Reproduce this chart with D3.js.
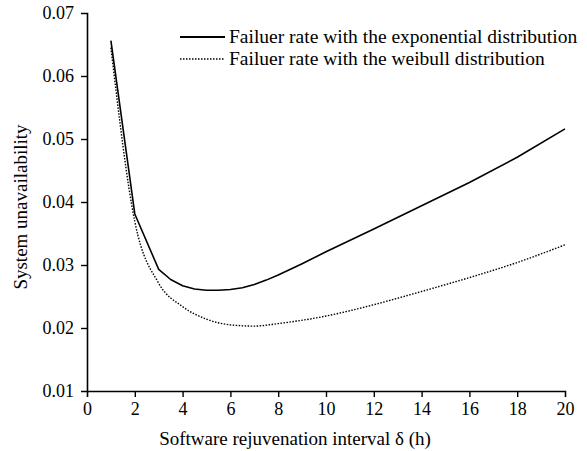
<!DOCTYPE html>
<html>
<head>
<meta charset="utf-8">
<script src="https://cdn.jsdelivr.net/npm/d3@7"></script>
<style>
  body { margin: 0; background: #fff; }
  text { font-family: "Liberation Serif", "Times New Roman", serif; fill: #000; }
</style>
</head>
<body>
<svg id="chart"></svg>
<script>
const width = 587;
const height = 451;

// data
const expIntervals = [1, 2, 3, 3.5, 4, 4.5, 5, 5.5, 6, 6.5, 7, 7.5, 8, 9, 10, 12, 14, 16, 18, 20];
const expRate = [0.0656, 0.0381, 0.0293, 0.0277, 0.0267, 0.0262, 0.0260, 0.0260, 0.0261, 0.0264, 0.0269, 0.0276, 0.0284, 0.0302, 0.0321, 0.0357, 0.0394, 0.0431, 0.0471, 0.0516];
const weibullIntervals = [1, 2, 3, 4, 5, 6, 7, 8, 10, 12, 14, 16, 18, 20];
const weibullRate = [0.0645, 0.0369, 0.0271, 0.0234, 0.0214, 0.0205, 0.0203, 0.0207, 0.0219, 0.0237, 0.0258, 0.0280, 0.0304, 0.0332];
const xTicks = [0, 2, 4, 6, 8, 10, 12, 14, 16, 18, 20];
const yTicks = [0.01, 0.02, 0.03, 0.04, 0.05, 0.06, 0.07];
const seriesNames = ["Failuer rate with the exponential distribution", "Failuer rate with the weibull distribution"];

const margin = {left: 87, right: 22, top: 13, bottom: 60};

const x = d3.scaleLinear().domain([0, 20]).range([margin.left, width - margin.right]);
const y = d3.scaleLinear().domain([0.01, 0.07]).range([height - margin.bottom, margin.top]);

const svg = d3.select("#chart")
    .attr("width", width)
    .attr("height", height);

// axes
const xAxis = svg.append("g")
    .attr("transform", "translate(0," + y(0.01) + ")")
    .call(d3.axisBottom(x).tickValues(xTicks).tickFormat(d3.format("d")).tickSizeOuter(0).tickSize(6).tickPadding(5));
xAxis.selectAll(".tick").filter(d => d == 0 || d == 20).select("line").remove();

const yAxis = svg.append("g")
    .attr("transform", "translate(" + x(0) + ",0)")
    .call(d3.axisLeft(y).tickValues(yTicks).tickFormat(d3.format(".2f")).tickSizeOuter(0).tickSize(6).tickPadding(7));
yAxis.selectAll(".tick").filter(d => d == 0.01 || d == 0.07).select("line").remove();

svg.selectAll(".domain").attr("stroke", "#000").attr("stroke-width", 1.6);
svg.selectAll(".tick line").attr("stroke", "#000").attr("stroke-width", 1.4);
svg.selectAll(".tick text")
    .attr("font-size", 18)
    .attr("font-family", "Liberation Serif, Times New Roman, serif");

// lines
const expLine = d3.line()
    .x((d, i) => x(expIntervals[i]))
    .y(d => y(d));

const weibullLine = d3.line()
    .x((d, i) => x(weibullIntervals[i]))
    .y(d => y(d))
    .curve(d3.curveMonotoneX);

svg.append("path")
    .datum(expRate)
    .attr("d", expLine)
    .attr("fill", "none")
    .attr("stroke", "#000")
    .attr("stroke-width", 1.6)
    .attr("stroke-linejoin", "round");

svg.append("path")
    .datum(weibullRate)
    .attr("d", weibullLine)
    .attr("fill", "none")
    .attr("stroke", "#000")
    .attr("stroke-width", 1.4)
    .attr("stroke-dasharray", "1.5,1.5");

// legend
const legend = svg.append("g")
    .attr("transform", "translate(180,37)");

legend.selectAll("line").data(seriesNames).enter()
    .append("line")
    .attr("x1", 0)
    .attr("x2", 45)
    .attr("y1", (d, i) => i * 22)
    .attr("y2", (d, i) => i * 22)
    .attr("stroke", "#000")
    .attr("stroke-width", (d, i) => i == 0 ? 1.8 : 1.4)
    .attr("stroke-dasharray", (d, i) => i == 0 ? null : "1.5,1.5");

legend.selectAll("text").data(seriesNames).enter()
    .append("text")
    .attr("x", 49)
    .attr("y", (d, i) => i * 22 + 6)
    .attr("font-size", 19.5)
    .text(d => d);

// axis titles
svg.append("text")
    .attr("x", 295)
    .attr("y", 445)
    .attr("text-anchor", "middle")
    .attr("font-size", 19)
    .text("Software rejuvenation interval δ (h)");

svg.append("text")
    .attr("transform", "translate(27,207) rotate(-90)")
    .attr("text-anchor", "middle")
    .attr("font-size", 19)
    .text("System unavailability");
</script>
</body>
</html>
